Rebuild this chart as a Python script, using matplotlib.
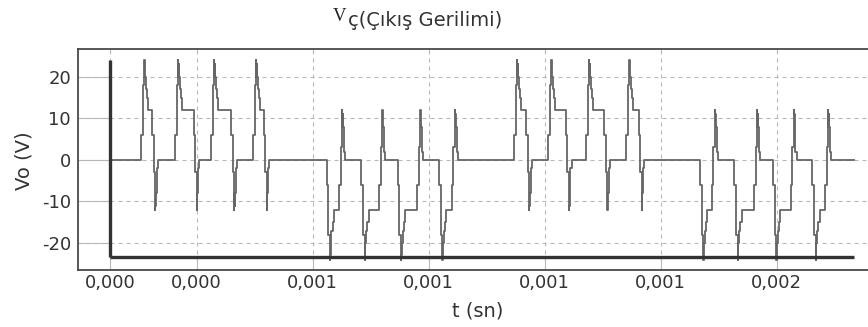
import numpy as np
import matplotlib
matplotlib.use("Agg")
import matplotlib.pyplot as plt

# ---- data (times in microseconds, voltages in volts) ----
t_start_us = 75.8
t_end_us = 2000.0

# positive bursts: time of the +24 V spike and of the -12 V return spike
pos_peak_us = [164.5, 252.4, 345.5, 454.1, 1129.1, 1217.1, 1315.3, 1418.8]
pos_dip_us = [192.2, 300.0, 397.2, 481.0, 1159.4, 1262.8, 1361.9, 1450.9]
# negative bursts: time of the -24 V spike and of the +12 V return spike
neg_dip_us = [644.7, 734.5, 828.4, 935.2, 1610.2, 1699.1, 1799.0, 1900.9]
neg_peak_us = [676.5, 780.0, 878.3, 968.0, 1640.4, 1749.8, 1844.7, 1933.4]

# staircase shape of one burst (offsets in microseconds around each spike)
lead_offsets_us = [-8.5, -4.4, 0.0, 0.5, 1.0, 1.6, 3.9, 6.5, 10.3]
lead_levels = [6, 18, 24, 20, 23, 20, 17, 15, 12]
trail_offsets_us = [-7.8, -3.9, 0.0, 0.5, 1.0, 1.6, 3.9, 6.5]
trail_levels = [6, -3, -12, -8, -11, -8, -2, 0]

rail_low = -23.4
rail_high = 24.0

yticks = [-20, -10, 0, 10, 20]
xticks_us = [75.8, 300, 600, 900, 1200, 1500, 1800]
xtick_labels = ["0,000", "0,000", "0,001", "0,001", "0,001", "0,001", "0,002"]

title_main = "V"
title_sub = "ç(Çıkış Gerilimi)"
xlabel = "t (sn)"
ylabel = "Vo (V)"

# ---- build the step waveform ----
events = []
for pk, dp in zip(pos_peak_us, pos_dip_us):
    events += [(pk + o, v) for o, v in zip(lead_offsets_us, lead_levels)]
    events += [(dp + o, v) for o, v in zip(trail_offsets_us, trail_levels)]
for dp, pk in zip(neg_dip_us, neg_peak_us):
    events += [(dp + o, -v) for o, v in zip(lead_offsets_us, lead_levels)]
    events += [(pk + o, -v) for o, v in zip(trail_offsets_us, trail_levels)]
events.sort()
t_us = np.array([t_start_us] + [e[0] for e in events] + [t_end_us])
v = np.array([0] + [e[1] for e in events] + [0])
t = t_us * 1e-6

# ---- figure ----
fig = plt.figure(figsize=(8.68, 3.27), dpi=100)
ax = fig.add_axes([78 / 868, 1 - 270 / 327, 1 - 78 / 868, (270 - 49.3) / 327])

xmin, xmax = -7.0e-6, 2036.1e-6
ymin, ymax = -26.5, 26.6
ax.set_xlim(xmin, xmax)
ax.set_ylim(ymin, ymax)

grid_c = "#b8b8b8"
xt = np.array(xticks_us) * 1e-6
for x in xt:
    ax.plot([x, x], [ymin, ymax], color=grid_c, lw=0.8, ls=(0, (3.6, 3.6)), zorder=1)
    ax.plot([x, x], [ymin, rail_low], color=grid_c, lw=0.8, zorder=1)
for y in yticks:
    ax.plot([xmin, xmax], [y, y], color=grid_c, lw=0.8, ls=(0, (3.6, 3.6)), zorder=1)
    ax.plot([xmin, t_start_us * 1e-6], [y, y], color=grid_c, lw=0.8, zorder=1)

ax.plot(t, v, drawstyle="steps-post", color="#666666", lw=1.3, zorder=3)

ax.plot([t_start_us * 1e-6, t_start_us * 1e-6], [rail_low, rail_high],
        color="#333333", lw=2.4, solid_capstyle="butt", zorder=4)
ax.plot([t_start_us * 1e-6, t_end_us * 1e-6], [rail_low, rail_low],
        color="#333333", lw=2.4, solid_capstyle="butt", zorder=4)

ax.set_xticks(xt)
ax.set_xticklabels(xtick_labels)
ax.set_yticks(yticks)
ax.set_yticklabels([str(y) for y in yticks])
ax.tick_params(axis="x", top=True, bottom=False, direction="in", length=3,
               color=grid_c, labelsize=13, labelcolor="#333333", pad=3)
ax.tick_params(axis="y", length=0, labelsize=13, labelcolor="#333333", pad=5)

for s in ["left", "top", "bottom"]:
    ax.spines[s].set_color("#4a4a4a")
    ax.spines[s].set_linewidth(1.3)
ax.spines["right"].set_visible(False)

fig.text(24 / 868, 1 - 161 / 327, ylabel, rotation=90, ha="center", va="center",
         fontsize=14, color="#333333")
fig.text(478 / 868, 1 - 311 / 327, xlabel, ha="center", va="center",
         fontsize=14, color="#333333")

fig.text(333 / 868, 1 - 21 / 327, title_main, family="Liberation Serif",
         fontsize=13.5, color="#222222", ha="left", va="baseline")
fig.text(348 / 868, 1 - 26 / 327, title_sub, fontsize=14, color="#333333",
         ha="left", va="baseline")

fig.savefig("out.png", dpi=100)
